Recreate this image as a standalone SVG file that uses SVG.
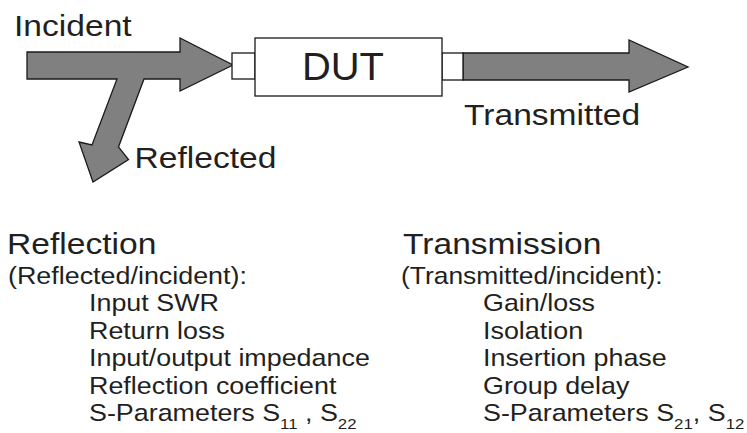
<svg xmlns="http://www.w3.org/2000/svg" width="747" height="433" viewBox="0 0 747 433">
<style>
  .arrow { fill: #808080; stroke: #1a1a1a; stroke-width: 1.3; stroke-linejoin: miter; }
  .box { fill: #ffffff; stroke: #1a1a1a; stroke-width: 1.3; }
  text { font-family: "Liberation Sans", Arial, Helvetica, sans-serif; fill: #231f20; }
  .big { font-size: 30px; }
  .dut { font-size: 38px; }
  .item { font-size: 24px; }
  .sub { font-size: 15px; }
</style>
<rect width="747" height="433" fill="#ffffff"/>
<g id="connectors">
  <polygon id="incident-reflected" class="arrow" points="27,52 180,52 180,38 233,65 180,91 180,79 144,79 118.5,147 128.5,159.5 93,182 79,142 92,145 117,79 27,79"/>
  <polygon id="transmitted" class="arrow" points="463,53 629,53 629,40 688,67 629,92 629,80 463,80"/>
</g>
<g id="port-in"><rect class="box" x="232" y="53" width="23" height="26"/></g>
<g id="port-out"><rect class="box" x="442" y="53" width="21" height="27"/></g>
<g id="dut">
  <rect class="box" x="255" y="38" width="187" height="58"/>
  <text class="dut" transform="translate(302,80) scale(1.05,1)">DUT</text>
</g>
<g id="labels">
  <text class="big" transform="translate(14,36) scale(1.12,1)">Incident</text>
  <text class="big" transform="translate(134.5,168) scale(1.12,1)">Reflected</text>
  <text class="big" transform="translate(464,125) scale(1.12,1)">Transmitted</text>
</g>
<g id="reflection">
  <text class="big" transform="translate(7,254) scale(1.12,1)">Reflection</text>
  <text class="item" transform="translate(8,284) scale(1.12,1)">(Reflected/incident):</text>
  <text class="item" transform="translate(89,311) scale(1.12,1)">Input SWR</text>
  <text class="item" transform="translate(89,338.5) scale(1.12,1)">Return loss</text>
  <text class="item" transform="translate(89,366) scale(1.12,1)">Input/output impedance</text>
  <text class="item" transform="translate(89,393.5) scale(1.12,1)">Reflection coefficient</text>
  <text class="item" transform="translate(89,421) scale(1.12,1)">S-Parameters S<tspan class="sub" dy="8">11</tspan><tspan dy="-8"> , S</tspan><tspan class="sub" dy="8">22</tspan></text>
</g>
<g id="transmission">
  <text class="big" transform="translate(403,254) scale(1.12,1)">Transmission</text>
  <text class="item" transform="translate(401,284) scale(1.10,1)">(Transmitted/incident):</text>
  <text class="item" transform="translate(483,311) scale(1.12,1)">Gain/loss</text>
  <text class="item" transform="translate(483,338.5) scale(1.12,1)">Isolation</text>
  <text class="item" transform="translate(483,366) scale(1.12,1)">Insertion phase</text>
  <text class="item" transform="translate(483,393.5) scale(1.12,1)">Group delay</text>
  <text class="item" transform="translate(483,421) scale(1.12,1)">S-Parameters S<tspan class="sub" dy="8">21</tspan><tspan dy="-8">, S</tspan><tspan class="sub" dy="8">12</tspan></text>
</g>
</svg>
